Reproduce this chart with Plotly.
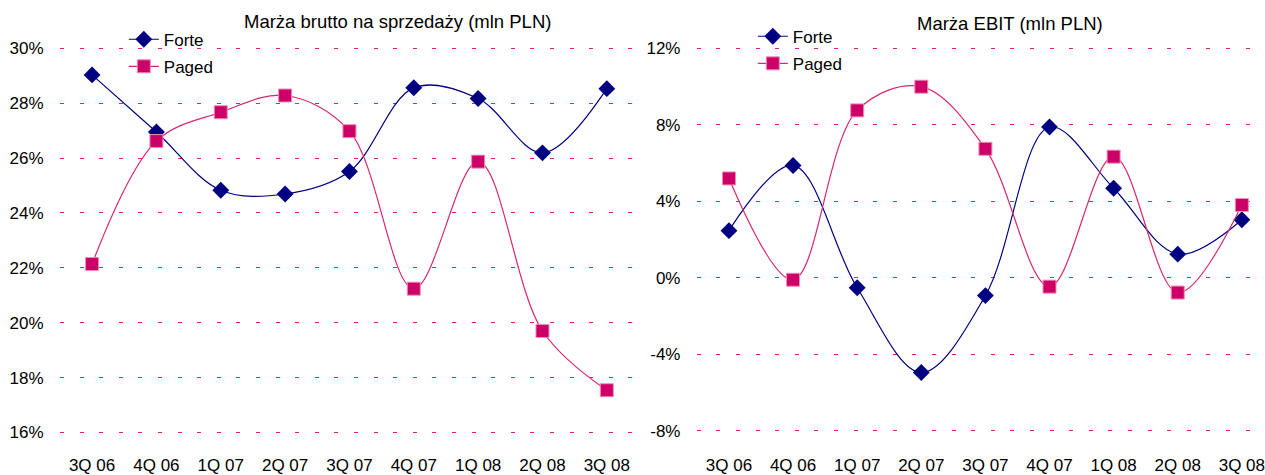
import plotly.graph_objects as go

categories = ["3Q 06", "4Q 06", "1Q 07", "2Q 07", "3Q 07", "4Q 07", "1Q 08", "2Q 08", "3Q 08"]

brutto_forte = [29.03, 26.95, 24.83, 24.69, 25.51, 28.56, 28.17, 26.19, 28.53]
brutto_paged = [22.14, 26.62, 27.67, 28.28, 26.98, 21.24, 25.87, 19.70, 17.54]

ebit_forte = [2.47, 5.88, -0.52, -4.95, -0.93, 7.89, 4.69, 1.24, 3.04]
ebit_paged = [5.20, -0.10, 8.76, 10.00, 6.75, -0.46, 6.34, -0.77, 3.81]

left_ticks = [16, 18, 20, 22, 24, 26, 28, 30]
left_ticktext = ["16%", "18%", "20%", "22%", "24%", "26%", "28%", "30%"]
right_ticks = [-8, -4, 0, 4, 8, 12]
right_ticktext = ["-8%", "-4%", "0%", "4%", "8%", "12%"]

title_left = "Marża brutto na sprzedaży (mln PLN)"
title_right = "Marża EBIT (mln PLN)"

W, H = 1265, 475
FONT = "Liberation Sans, Arial, sans-serif"
NAVY = "#000080"
MAG = "#CC0066"
MAG_LINE = "#DA2472"
GRID = "#D8237A"

def px_x(p):
    return p / W

def px_y(p):
    return 1 - p / H

fig = go.Figure()

def add_pair(forte, paged, xa, ya, leg):
    fig.add_trace(go.Scatter(
        x=categories, y=forte, name="Forte", mode="lines+markers",
        line=dict(color=NAVY, width=1.2, shape="spline", smoothing=1.0),
        marker=dict(symbol="diamond", size=13, color=NAVY, line=dict(color=NAVY, width=0)),
        xaxis=xa, yaxis=ya, legend=leg, legendgroup=leg + "f", cliponaxis=False))
    fig.add_trace(go.Scatter(
        x=categories, y=paged, name="Paged", mode="lines+markers",
        line=dict(color=MAG_LINE, width=1.2, shape="spline", smoothing=1.0),
        marker=dict(symbol="square", size=13, color=MAG, line=dict(color="#F08CB8", width=1)),
        xaxis=xa, yaxis=ya, legend=leg, legendgroup=leg + "p", cliponaxis=False))

add_pair(brutto_forte, brutto_paged, "x", "y", "legend")
add_pair(ebit_forte, ebit_paged, "x2", "y2", "legend2")

axis_font = dict(family=FONT, size=17, color="#000000")

common_x = dict(type="category", showgrid=False, zeroline=False, showline=False,
                ticks="outside", tickcolor="rgba(0,0,0,0)", tickfont=axis_font,
                fixedrange=True)
common_y = dict(showline=False, zeroline=False, showgrid=True, gridcolor=GRID,
                griddash="4px,15.6px", gridwidth=1, ticks="outside", ticklen=12,
                tickcolor="rgba(0,0,0,0)", tickfont=axis_font)

fig.update_layout(
    width=W, height=H,
    margin=dict(l=0, r=0, t=0, b=0),
    paper_bgcolor="white", plot_bgcolor="white",
    font=dict(family=FONT, color="#000000"),
    xaxis=dict(common_x, domain=[px_x(60), px_x(640)], range=[-0.5, 8.5], anchor="y",
               ticklen=3),
    yaxis=dict(common_y, domain=[px_y(452.9), px_y(35.1)], range=[15.5, 30.5],
               tickvals=left_ticks, ticktext=left_ticktext, anchor="x"),
    xaxis2=dict(common_x, domain=[px_x(698), 1.0], range=[-0.5, 8.33], anchor="y2",
                ticklen=0),
    yaxis2=dict(common_y, domain=[px_y(456.6), px_y(29.8)], range=[-9, 13],
                tickvals=right_ticks, ticktext=right_ticktext, anchor="x2"),
    legend=dict(x=px_x(124), y=px_y(22), xanchor="left", yanchor="top",
                bgcolor="rgba(0,0,0,0)", font=dict(family=FONT, size=17),
                tracegroupgap=2, itemwidth=30),
    legend2=dict(x=px_x(754), y=px_y(19), xanchor="left", yanchor="top",
                 bgcolor="rgba(0,0,0,0)", font=dict(family=FONT, size=17),
                 tracegroupgap=2, itemwidth=30),
    showlegend=True,
    hovermode=False,
    annotations=[
        dict(text=title_left, x=px_x(398), y=px_y(22), xref="paper", yref="paper",
             showarrow=False, xanchor="center", yanchor="middle",
             font=dict(family=FONT, size=18.5)),
        dict(text=title_right, x=px_x(1012), y=px_y(24), xref="paper", yref="paper",
             showarrow=False, xanchor="center", yanchor="middle",
             font=dict(family=FONT, size=18.5)),
    ],
)

# remove the default 8px body margin so the figure fills the window exactly
fig.write_html("out.html",
               config={"displayModeBar": False},
               post_script="document.body.style.margin='0';document.body.style.padding='0';"
                           "document.body.style.overflow='hidden';")
